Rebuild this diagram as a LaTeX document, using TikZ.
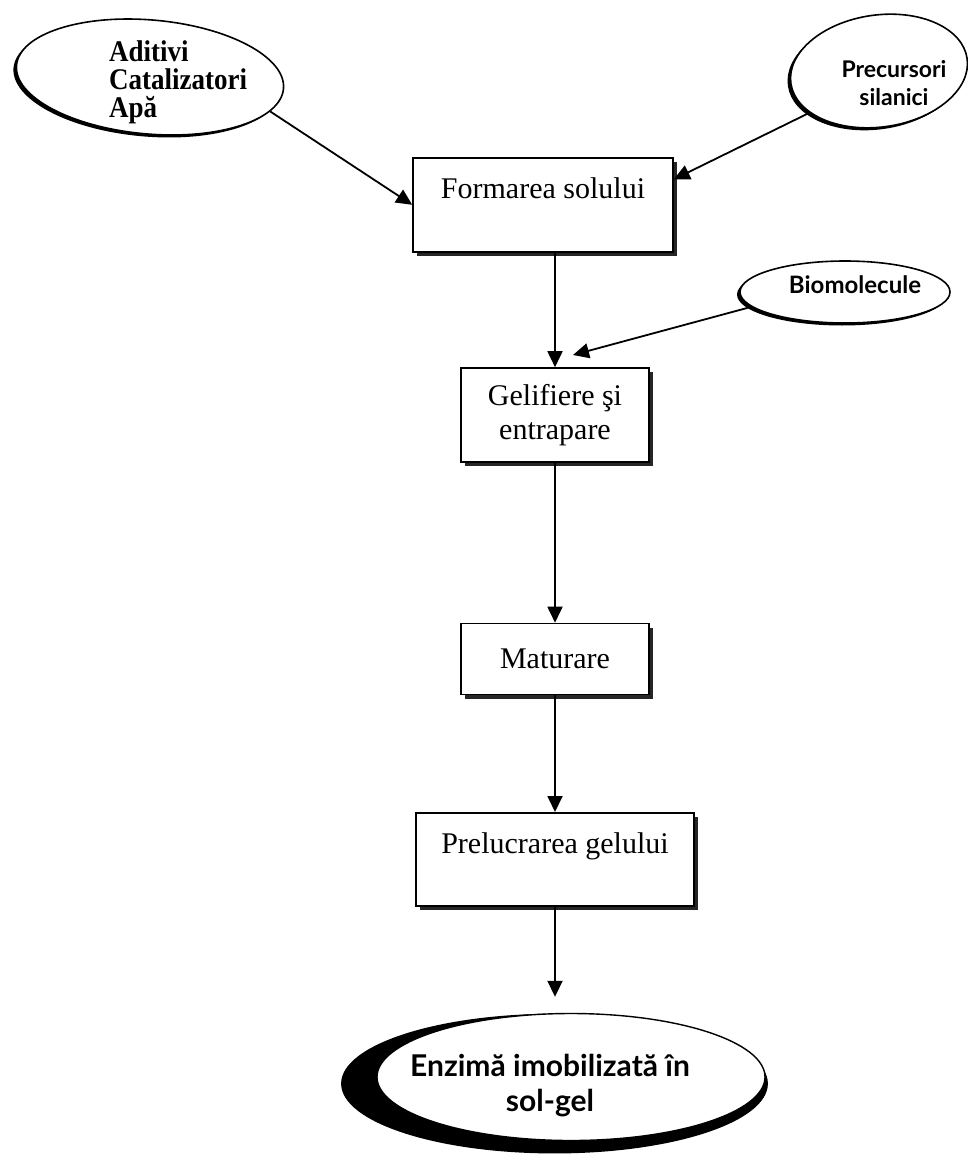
\documentclass[tikz,border=0pt]{standalone}
\usepackage{fontspec}
\setmainfont{Liberation Serif}
\newfontfamily\ovalfont{Lato}
\newfontfamily\inputfont[FakeStretch=0.9]{Liberation Serif}
\usetikzlibrary{shapes.geometric,arrows.meta,shadows,positioning}

\begin{document}
\begin{tikzpicture}[x=1pt, y=-1pt,
		box/.style={draw, line width=1.6pt, fill=white, inner sep=0pt,
			drop shadow={shadow xshift=4pt, shadow yshift=-4pt, fill=black!85, opacity=1},
			font=\fontsize{30}{34}\selectfont},
		oval/.style={ellipse, draw, line width=1.6pt, fill=white, inner sep=0pt,
			drop shadow={shadow xshift=-3pt, shadow yshift=-2.5pt, fill=black, opacity=1}},
		ovaltext/.style={inner sep=0pt, align=center, font=\ovalfont\bfseries\fontsize{23}{28}\selectfont},
		flow/.style={line width=1.8pt, -{Triangle[length=16pt, width=15pt]}}]

		\useasboundingbox (0,0) rectangle (967,1156);

		% inputs
		\node[oval, rotate=-5, minimum width=268pt, minimum height=114pt] (adit) at (150,77) {};
		\node[anchor=north west, align=left, inner sep=0pt,
			font=\inputfont\bfseries\fontsize{30}{28}\selectfont] (aditT) at (109,40) {Aditivi\\Catalizatori\\Apă};
		\node[oval, rotate=8, minimum width=178pt, minimum height=112pt] (prec) at (879,71) {};
		\node[ovaltext] (precT) at (894,83) {Precursori\\silanici};
		\node[oval, minimum width=210pt, minimum height=62pt] (bio) at (845,292) {};
		\node[ovaltext, font=\ovalfont\bfseries\fontsize{24}{28}\selectfont] (bioT) at (855,285) {Biomolecule};
		\coordinate (bioend) at (573,355);

		% steps
		\node[box, anchor=north, minimum width=260pt, text height=41pt, text depth=53pt] (sol) at (543,157) {Formarea solului};
		\node[box, minimum width=188pt, minimum height=94pt, align=center] (gel) at (555,415) {Gelifiere şi\\entrapare};
		\node[box, minimum width=188pt, minimum height=71pt] (mat) at (555,659) {Maturare};
		\node[box, anchor=north, minimum width=278pt, text height=41pt, text depth=52pt] (prel) at (555,812) {Prelucrarea gelului};

		% result
		\node[ellipse, draw, line width=1.4pt, fill=white, minimum width=388pt, minimum height=127pt,
			drop shadow={shadow xshift=-15pt, shadow yshift=-6pt, shadow scale=1.1, fill=black, opacity=1}] (enz) at (571,1077) {};
		\node[ovaltext, font=\ovalfont\bfseries\fontsize{30}{35}\selectfont] (enzT) at (550,1086) {Enzimă imobilizată în\\sol-gel};

		\draw[flow] (adit.-11) -- (sol.west);
		\draw[flow] (prec.203) -- (sol.11);
		\draw[flow] (bio.189) -- (bioend);
		\draw[flow] (sol.south -| gel.north) -- (gel.north);
		\draw[flow] (gel) -- (mat);
		\draw[flow] (mat) -- (prel);
		\draw[flow] (prel.south) -- ([yshift=16pt]prel.south |- enz.north);
	\end{tikzpicture}
\end{document}
